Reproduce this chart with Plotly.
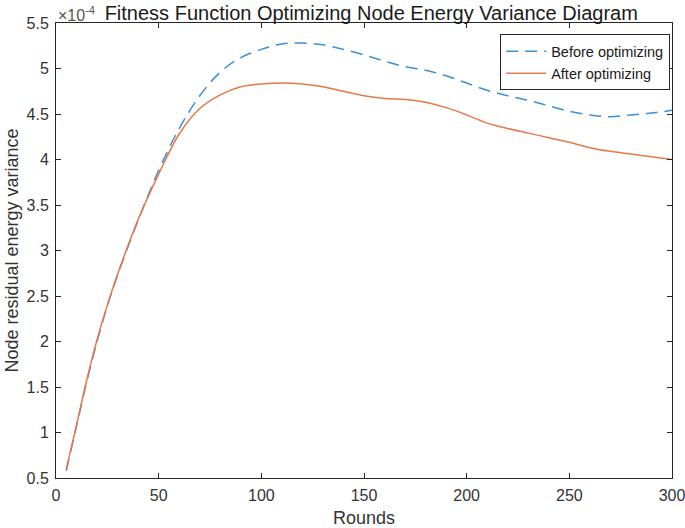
import plotly.graph_objects as go

rounds = [5, 10, 15, 20, 25, 30, 40, 50, 60, 70, 80, 90, 100, 110, 120, 130, 140, 150,
          160, 170, 180, 190, 200, 210, 220, 230, 240, 250, 260, 270, 280, 290, 300]

before_opt = [0.58, 1.07, 1.56, 2.00, 2.39, 2.73, 3.33, 3.88, 4.34, 4.70, 4.96, 5.12, 5.21,
              5.27, 5.28, 5.26, 5.21, 5.15, 5.08, 5.02, 4.98, 4.92, 4.84, 4.76, 4.70,
              4.65, 4.59, 4.53, 4.49, 4.47, 4.49, 4.51, 4.54]

after_opt = [0.60, 1.08, 1.58, 2.02, 2.40, 2.74, 3.34, 3.84, 4.28, 4.56, 4.71, 4.80, 4.83,
             4.84, 4.83, 4.80, 4.75, 4.70, 4.67, 4.66, 4.63, 4.57, 4.49, 4.40, 4.34,
             4.29, 4.24, 4.19, 4.13, 4.09, 4.06, 4.03, 4.00]

x_ticks = [0, 50, 100, 150, 200, 250, 300]
y_ticks = [0.5, 1, 1.5, 2, 2.5, 3, 3.5, 4, 4.5, 5, 5.5]
y_tick_labels = ["0.5", "1", "1.5", "2", "2.5", "3", "3.5", "4", "4.5", "5", "5.5"]

fig = go.Figure()
fig.add_trace(go.Scatter(x=rounds, y=before_opt, mode="lines", name="Before optimizing",
                         line=dict(color="#3a90d6", width=1.5, dash="12px,7px", shape="spline")))
fig.add_trace(go.Scatter(x=rounds, y=after_opt, mode="lines", name="After optimizing",
                         line=dict(color="#e8774a", width=1.5, shape="spline")))

axis_common = dict(showline=True, linecolor="#262626", linewidth=1, mirror="ticks",
                   ticks="inside", ticklen=5, tickcolor="#262626", showgrid=False,
                   zeroline=False, automargin=False, ticklabeloverflow="allow",
                   tickfont=dict(family="Liberation Sans, Arial", size=16, color="#333333"))

fig.update_layout(
    width=685, height=528,
    margin=dict(l=56, r=13, t=23, b=50),
    paper_bgcolor="white", plot_bgcolor="white",
    font=dict(family="Liberation Sans, Arial", color="#262626"),
    title=dict(text="Fitness Function Optimizing Node Energy Variance Diagram",
               x=0.542, xanchor="center", y=0.962, yanchor="bottom", automargin=False,
               font=dict(size=20, color="#1a1a1a")),
    xaxis=dict(range=[0, 300], tickvals=x_ticks, ticklabelstandoff=3,
               title=dict(text="Rounds", font=dict(size=18, color="#333333"), standoff=12),
               **axis_common),
    yaxis=dict(range=[0.5, 5.5], tickvals=y_ticks, ticktext=y_tick_labels, ticklabelstandoff=3,
               title=dict(text="Node residual energy variance", font=dict(size=18, color="#333333"), standoff=3),
               **axis_common),
    legend=dict(x=0.997, xanchor="right", y=0.975, yanchor="top",
                bordercolor="#262626", borderwidth=1, bgcolor="white",
                font=dict(size=14.5, color="#1a1a1a"), tracegroupgap=0,
                itemwidth=40),
    showlegend=True,
)

fig.add_annotation(text="×10<sup>-4</sup>", xref="paper", yref="paper", x=0, y=1,
                   xanchor="left", yanchor="bottom", showarrow=False,
                   font=dict(size=16, color="#555555"), yshift=-3)

fig.write_html("out.html", config={"displayModeBar": False},
               post_script="document.body.style.margin='0';")
